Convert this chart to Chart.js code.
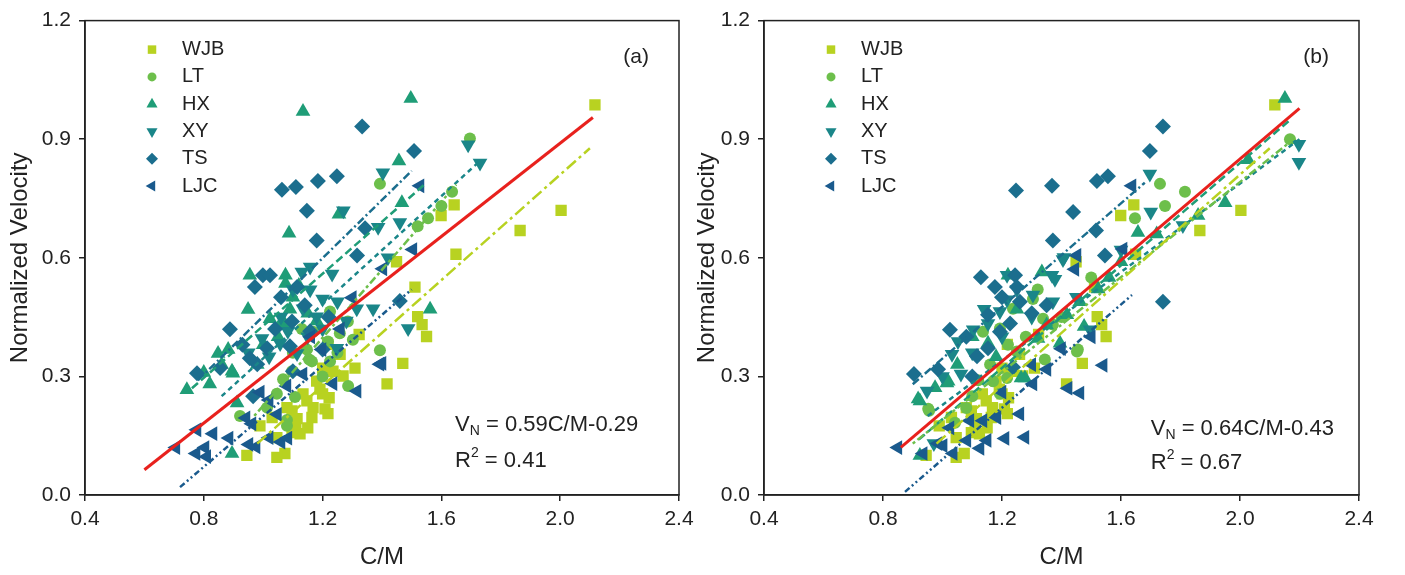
<!DOCTYPE html>
<html>
<head>
<meta charset="utf-8">
<script src="https://cdn.jsdelivr.net/npm/chart.js@4.4.1/dist/chart.umd.min.js"></script>
<style>
  html, body { margin: 0; padding: 0; background: #fff; }
  #wrap { position: relative; width: 1405px; height: 575px; overflow: hidden; }
  canvas { position: absolute; top: 0; }
  #chartA { left: 0; }
  #chartB { left: 690px; }
</style>
</head>
<body>
<div id="wrap">
  <canvas id="chartA" width="700" height="575"></canvas>
  <canvas id="chartB" width="715" height="575"></canvas>
</div>
<script>
const groups = ['WJB', 'LT', 'HX', 'XY', 'TS', 'LJC'];
const xTicks = [0.4, 0.8, 1.2, 1.6, 2.0, 2.4];
const yTicks = [0.0, 0.3, 0.6, 0.9, 1.2];

// WJB is the reference site, same in both panels
const wjb = [[2.117,0.987],[2.003,0.72],[1.865,0.669],[1.649,0.609],[1.643,0.734],[1.599,0.707],[1.449,0.59],[1.511,0.526],
  [1.52,0.451],[1.535,0.431],[1.55,0.401],[1.47,0.333],[1.417,0.281],[1.323,0.406],[1.309,0.321],[1.269,0.301],[1.259,0.356],
  [1.218,0.381],[1.222,0.246],[1.208,0.218],[1.218,0.206],[1.191,0.268],[1.20,0.256],[1.168,0.221],[1.164,0.196],[1.124,0.155],
  [1.114,0.193],[1.097,0.213],[1.08,0.221],[1.097,0.158],[1.073,0.105],[1.046,0.095],[0.945,0.10],[0.989,0.175],[1.046,0.145],
  [1.03,0.196],[1.147,0.238],[1.134,0.256],[1.18,0.288],[1.235,0.313],[1.20,0.321],[1.11,0.18],[1.15,0.17]];

const ltA = [[1.696,0.902],[1.393,0.787],[1.636,0.767],[1.60,0.731],[1.555,0.70],[1.225,0.464],[1.285,0.439],[1.258,0.409],
  [1.302,0.393],[1.218,0.388],[1.393,0.366],[1.155,0.343],[1.168,0.413],[1.225,0.338],[1.164,0.338],[1.286,0.276],[1.046,0.256],
  [1.013,0.221],[0.922,0.20],[1.08,0.175],[1.107,0.248],[1.067,0.293],[1.097,0.313],[1.147,0.368],[1.08,0.19],[1.20,0.30],
  [1.25,0.36],[1.13,0.42],[1.10,0.36],[1.52,0.68]];
const hxA = [[1.497,1.003],[1.134,0.97],[1.457,0.845],[1.467,0.739],[1.087,0.662],[1.255,0.71],[0.955,0.556],[1.075,0.556],
  [1.075,0.535],[0.949,0.469],[1.562,0.47],[0.882,0.368],[0.898,0.308],[1.023,0.446],[1.057,0.431],[0.743,0.266],[0.82,0.281],
  [0.848,0.358],[0.895,0.313],[0.895,0.105],[0.912,0.233],[1.073,0.431],[1.00,0.38],[1.10,0.50],[1.15,0.46],[1.05,0.40],
  [1.12,0.53],[0.98,0.33],[1.18,0.44],[1.09,0.47],[0.80,0.31],[0.86,0.33]];
const xyA = [[1.73,0.84],[1.69,0.886],[1.403,0.815],[1.46,0.689],[1.387,0.677],[1.27,0.719],[1.42,0.60],[1.232,0.559],
  [1.158,0.577],[1.13,0.564],[1.315,0.471],[1.37,0.471],[1.25,0.489],[1.20,0.496],[1.158,0.519],[1.488,0.421],[1.057,0.383],
  [1.134,0.471],[1.083,0.414],[1.18,0.451],[1.248,0.371],[1.114,0.358],[0.996,0.396],[1.06,0.45],[1.20,0.42],[1.10,0.52],
  [1.28,0.44],[1.02,0.35],[1.15,0.40],[0.95,0.36]];
const tsA = [[1.333,0.932],[1.508,0.87],[1.063,0.772],[1.11,0.779],[1.184,0.794],[1.248,0.806],[1.147,0.719],[1.18,0.644],
  [1.343,0.675],[1.316,0.606],[0.999,0.556],[1.023,0.556],[0.972,0.526],[1.46,0.491],[0.888,0.419],[0.777,0.308],[0.855,0.321],
  [1.114,0.526],[0.98,0.331],[1.013,0.371],[0.955,0.346],[1.097,0.439],[1.20,0.368],[1.158,0.414],[0.966,0.25],[1.10,0.313],
  [1.09,0.376],[1.04,0.42],[1.14,0.48],[1.06,0.50],[1.22,0.45],[0.93,0.38]];
const ljcA = [[1.528,0.782],[1.504,0.621],[1.403,0.572],[1.30,0.499],[1.40,0.333],[1.198,0.368],[1.134,0.306],[0.706,0.12],
  [0.777,0.165],[0.831,0.155],[0.774,0.105],[0.804,0.12],[0.81,0.097],[0.885,0.144],[0.942,0.195],[0.962,0.18],[0.952,0.128],
  [0.976,0.122],[1.02,0.145],[1.06,0.134],[1.083,0.144],[1.048,0.204],[1.08,0.276],[1.235,0.282],[1.316,0.263],[1.393,0.331],
  [1.16,0.40],[1.26,0.42],[1.02,0.24],[0.99,0.26]];

const ltB = [[2.168,0.90],[1.731,0.787],[1.815,0.767],[1.748,0.731],[1.647,0.70],[1.304,0.496],[1.338,0.446],[1.371,0.431],
  [1.452,0.363],[1.344,0.343],[1.25,0.363],[1.193,0.421],[1.136,0.413],[0.952,0.218],[1.217,0.296],[1.17,0.288],[1.193,0.256],
  [1.042,0.183],[1.237,0.471],[0.955,0.213],[1.455,0.368],[1.10,0.25],[1.28,0.40],[1.32,0.52],[1.40,0.45],[1.16,0.33],
  [1.08,0.22],[1.50,0.55],[1.22,0.38],[1.12,0.29]];
const hxB = [[2.151,1.003],[2.027,0.848],[1.95,0.739],[1.859,0.707],[1.657,0.664],[1.523,0.521],[1.321,0.396],[1.277,0.296],
  [0.975,0.271],[0.924,0.238],[1.019,0.288],[1.418,0.456],[1.153,0.384],[1.462,0.489],[1.395,0.384],[0.924,0.10],[0.918,0.243],
  [1.015,0.283],[1.476,0.426],[1.264,0.296],[1.334,0.564],[1.22,0.556],[1.72,0.66],[1.60,0.59],[1.25,0.47],[1.10,0.40],
  [1.35,0.43],[1.18,0.35],[1.05,0.33],[1.56,0.55]];
const xyB = [[2.198,0.887],[2.198,0.842],[1.697,0.812],[1.70,0.716],[1.808,0.682],[1.378,0.546],[1.408,0.601],[1.217,0.556],
  [1.368,0.556],[1.103,0.418],[1.052,0.388],[1.032,0.356],[1.153,0.434],[1.304,0.506],[1.405,0.596],[1.496,0.418],[1.217,0.494],
  [1.193,0.464],[0.948,0.263],[1.371,0.489],[0.971,0.13],[1.062,0.306],[1.25,0.52],[1.14,0.47],[1.30,0.45],[1.20,0.40],
  [1.10,0.36],[1.45,0.50],[1.60,0.62],[1.00,0.30]];
const tsB = [[1.741,0.932],[1.697,0.87],[1.247,0.77],[1.368,0.782],[1.519,0.794],[1.556,0.806],[1.439,0.716],[1.371,0.644],
  [1.516,0.669],[1.546,0.606],[1.129,0.551],[1.176,0.526],[1.244,0.556],[1.741,0.489],[0.904,0.306],[1.025,0.418],[1.25,0.526],
  [1.153,0.371],[1.237,0.323],[1.193,0.413],[0.985,0.318],[1.116,0.351],[1.227,0.434],[1.26,0.489],[1.153,0.456],[1.30,0.46],
  [1.08,0.40],[1.20,0.50],[1.35,0.48],[1.10,0.30]];
const ljcB = [[1.637,0.782],[1.607,0.622],[1.445,0.571],[1.452,0.606],[1.54,0.328],[1.422,0.27],[1.462,0.258],[1.26,0.205],
  [1.304,0.281],[1.277,0.146],[1.21,0.143],[1.183,0.196],[1.136,0.188],[1.092,0.188],[1.15,0.138],[1.126,0.118],[1.082,0.138],
  [1.002,0.125],[0.935,0.105],[0.85,0.12],[1.351,0.318],[1.025,0.17],[0.985,0.13],[1.036,0.105],[1.40,0.37],[1.30,0.33],
  [1.20,0.26],[1.50,0.40]];

// per-site fit lines, endpoints [x1, y1, x2, y2]
const fitsA = [[0.98,0.13,2.10,0.877],[0.97,0.20,1.65,0.785],[0.76,0.27,1.55,0.79],
  [0.86,0.25,1.73,0.845],[0.78,0.29,1.50,0.82],[0.72,0.02,1.50,0.52]];
const fitsB = [[0.98,0.13,2.10,0.877],[0.90,0.13,2.18,0.90],[0.92,0.14,2.17,0.95],
  [0.95,0.20,2.20,0.90],[0.90,0.28,1.68,0.79],[0.874,0.008,1.637,0.506]];

// overall fit: slope, intercept, x range, R²
const overallA = [0.59, -0.29, 0.60, 2.11];
const overallB = [0.64, -0.43, 0.86, 2.20];
const r2A = 0.41;
const r2B = 0.67;

const colors = ['#b8d221', '#6dbf4b', '#1f9d77', '#1a8689', '#1b6e8e', '#1a5a8d'];
const markers = [
  { pointStyle: 'rect', radius: 8, rotation: 0 },
  { pointStyle: 'circle', radius: 6, rotation: 0 },
  { pointStyle: 'triangle', radius: 8.5, rotation: 0 },
  { pointStyle: 'triangle', radius: 8.5, rotation: 180 },
  { pointStyle: 'rectRot', radius: 8, rotation: 0 },
  { pointStyle: 'triangle', radius: 8.5, rotation: 270 }
];
const dashes = [[12, 4, 3, 4], [3, 3, 8, 3], [8, 4], [5, 4], [8, 3, 2, 3], [6, 3, 2, 3, 2, 3]];

const FONT = '"Liberation Sans", Arial, sans-serif';
const INK = '#222';
Chart.defaults.font.family = FONT;
Chart.defaults.color = INK;

const decorPlugin = {
  id: 'decor',
  afterDraw(chart, args, opts) {
    const { ctx, chartArea: a, scales } = chart;
    ctx.save();
    // box
    ctx.strokeStyle = INK;
    ctx.lineWidth = 1.5;
    ctx.strokeRect(a.left, a.top, a.right - a.left, a.bottom - a.top);

    // legend in top-left corner
    ctx.textBaseline = 'middle';
    ctx.textAlign = 'left';
    ctx.font = '20px ' + FONT;
    groups.forEach((name, i) => {
      const y = a.top + 29 + i * 27.3;
      const x = a.left + 67;
      ctx.fillStyle = colors[i];
      const m = markers[i];
      Chart.helpers.drawPoint(ctx, { pointStyle: m.pointStyle, rotation: m.rotation, radius: m.radius * 0.75, borderWidth: 0 }, x, y);
      ctx.fillStyle = INK;
      ctx.fillText(name, x + 30, y);
    });

    // panel tag
    ctx.textAlign = 'right';
    ctx.font = '21px ' + FONT;
    ctx.fillText(opts.tag, a.right - 30, a.top + 37);

    // equation
    ctx.textAlign = 'left';
    const [slope, icpt] = opts.overall;
    let x = scales.x.getPixelForValue(opts.eqAt[0]);
    let y = scales.y.getPixelForValue(opts.eqAt[1]);
    ctx.font = '22px ' + FONT;
    ctx.fillText('V', x, y);
    x += ctx.measureText('V').width;
    ctx.font = '14px ' + FONT;
    ctx.fillText('N', x, y + 7);
    x += ctx.measureText('N').width;
    ctx.font = '22px ' + FONT;
    ctx.fillText(' = ' + slope.toFixed(2) + 'C/M-' + (-icpt).toFixed(2), x, y);

    x = scales.x.getPixelForValue(opts.eqAt[0]);
    y = scales.y.getPixelForValue(opts.eqAt[2]);
    ctx.fillText('R', x, y);
    x += ctx.measureText('R').width;
    ctx.font = '14px ' + FONT;
    ctx.fillText('2', x, y - 8);
    x += ctx.measureText('2').width;
    ctx.font = '22px ' + FONT;
    ctx.fillText(' = ' + opts.r2.toFixed(2), x, y);
    ctx.restore();
  }
};

function pts(arr) {
  return arr.map(p => ({ x: p[0], y: p[1] }));
}

function buildDatasets(sets, fits, overall) {
  const ds = [];
  const [slope, icpt, x0, x1] = overall;
  ds.push({
    data: [{ x: x0, y: slope * x0 + icpt }, { x: x1, y: slope * x1 + icpt }],
    showLine: true, borderColor: '#e8211d', borderWidth: 3, pointRadius: 0, order: 0
  });
  fits.forEach((f, i) => {
    ds.push({
      data: [{ x: f[0], y: f[1] }, { x: f[2], y: f[3] }],
      showLine: true, borderColor: colors[i], borderWidth: 2.5, borderDash: dashes[i],
      pointRadius: 0, order: 1
    });
  });
  sets.forEach((s, i) => {
    const m = markers[i];
    ds.push({
      label: groups[i],
      data: pts(s),
      pointStyle: m.pointStyle,
      rotation: m.rotation,
      pointRadius: m.radius,
      pointBackgroundColor: colors[i],
      pointBorderWidth: 0,
      order: 10 - i
    });
  });
  return ds;
}

function makeScales(yWidth, yTitlePad) {
  const tickGrid = { drawOnChartArea: false, drawTicks: true, tickLength: 6, color: INK, lineWidth: 1.5 };
  const border = { display: true, color: INK, width: 1.5 };
  return {
    x: {
      type: 'linear', min: 0.4, max: 2.4,
      afterBuildTicks: s => { s.ticks = xTicks.map(v => ({ value: v })); },
      afterFit: s => { s.height = 80; },
      ticks: { callback: v => Number(v).toFixed(1), font: { size: 21 }, color: INK, padding: 6, maxRotation: 0 },
      grid: tickGrid,
      border,
      title: { display: true, text: 'C/M', font: { size: 24 }, color: INK, padding: { top: 0, bottom: 3.6 } }
    },
    y: {
      type: 'linear', min: 0, max: 1.2,
      afterBuildTicks: s => { s.ticks = yTicks.map(v => ({ value: v })); },
      afterFit: s => { s.width = yWidth; },
      ticks: { callback: v => Number(v).toFixed(1), font: { size: 21 }, color: INK, padding: 8 },
      grid: tickGrid,
      border,
      title: { display: true, text: 'Normalized Velocity', font: { size: 24 }, color: INK, padding: { top: yTitlePad, bottom: 0 } }
    }
  };
}

function makeChart(id, sets, fits, overall, r2, tag, eqAt, yWidth, yTitlePad, padRight) {
  return new Chart(document.getElementById(id), {
    type: 'scatter',
    data: { datasets: buildDatasets(sets, fits, overall) },
    options: {
      responsive: false,
      animation: false,
      devicePixelRatio: 1,
      layout: { padding: { top: 16, right: padRight, bottom: 0, left: 0 } },
      plugins: {
        legend: { display: false },
        tooltip: { enabled: false },
        decor: { tag, overall, r2, eqAt }
      },
      scales: makeScales(yWidth, yTitlePad)
    },
    plugins: [decorPlugin]
  });
}

makeChart('chartA', [wjb, ltA, hxA, xyA, tsA, ljcA], fitsA, overallA, r2A, '(a)', [1.646, 0.178, 0.085], 85, 5.6, 21);
makeChart('chartB', [wjb, ltB, hxB, xyB, tsB, ljcB], fitsB, overallB, r2B, '(b)', [1.70, 0.168, 0.080], 74, 2.6, 46);
</script>
</body>
</html>
